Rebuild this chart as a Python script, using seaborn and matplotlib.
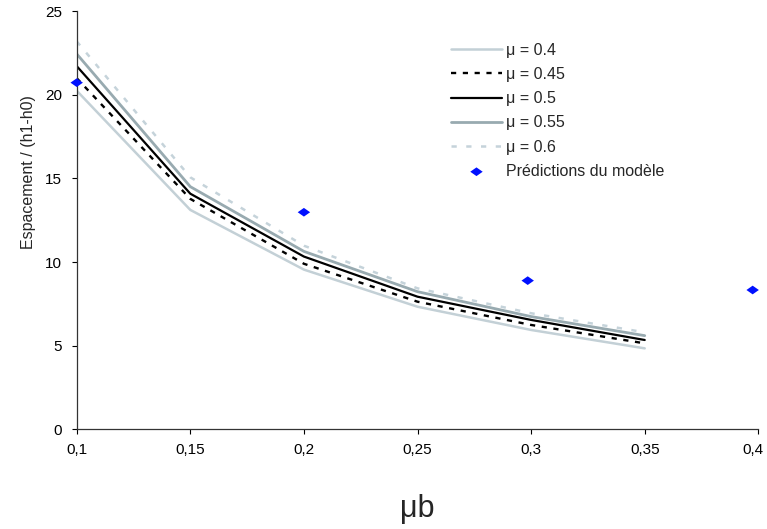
import numpy as np
import pandas as pd
import matplotlib
matplotlib.use("Agg")
import matplotlib.pyplot as plt
import matplotlib.transforms as mtransforms
import seaborn as sns

# ---- data ----
mu_b = [0.1, 0.15, 0.2, 0.25, 0.3, 0.35]
mu_04 = [20.25, 13.12, 9.55, 7.33, 5.94, 4.84]
mu_045 = [21.0, 13.78, 9.9, 7.63, 6.24, 5.14]
mu_05 = [21.72, 14.09, 10.33, 7.93, 6.54, 5.34]
mu_055 = [22.45, 14.51, 10.64, 8.23, 6.74, 5.6]
mu_06 = [23.2, 15.07, 10.98, 8.43, 6.94, 5.8]
series_labels = ["\u03bc = 0.4", "\u03bc = 0.45", "\u03bc = 0.5", "\u03bc = 0.55", "\u03bc = 0.6"]

pred_x = [0.1, 0.2, 0.2985, 0.3975]
pred_y = [20.73, 12.98, 8.89, 8.33]
pred_label = "Prédictions du modèle"

x_ticks = [0.1, 0.15, 0.2, 0.25, 0.3, 0.35, 0.4]
x_tick_labels = ["0,1", "0,15", "0,2", "0,25", "0,3", "0,35", "0,4"]
y_ticks = [0, 5, 10, 15, 20, 25]
y_tick_labels = ["0", "5", "10", "15", "20", "25"]

sns.set_style("ticks")
plt.rcParams["font.family"] = ["Liberation Sans", "DejaVu Sans"]

fig = plt.figure(figsize=(7.67, 5.29), dpi=100)
ax = fig.add_axes([0.1, 0.1885, 0.8887, 0.7902])

styles = [
    dict(color="#C3D0D6", linewidth=1.8, linestyle="-"),
    dict(color="black", linewidth=1.7, linestyle=(0, (2.2, 2.8))),
    dict(color="black", linewidth=1.6, linestyle="-"),
    dict(color="#98AAB0", linewidth=2.0, linestyle="-"),
    dict(color="#C5D3DA", linewidth=1.8, linestyle=(0, (2.1, 3.8))),
]
all_series = [mu_04, mu_045, mu_05, mu_055, mu_06]
for vals, lab, st in zip(all_series, series_labels, styles):
    sns.lineplot(x=mu_b, y=vals, ax=ax, label=lab, **st)

diamond = [(-1, 0), (0, 0.7), (1, 0), (0, -0.7), (-1, 0)]
sns.scatterplot(x=pred_x, y=pred_y, ax=ax, marker=diamond, s=80, color="#0010FF",
                edgecolor="none", label=pred_label, clip_on=False, zorder=5)

ax.set_xlim(0.1, 0.4)
ax.set_ylim(0, 25)
ax.set_xticks(x_ticks)
ax.set_xticklabels(x_tick_labels)
ax.set_yticks(y_ticks)
ax.set_yticklabels(y_tick_labels)
ax.tick_params(axis="both", direction="out", length=3.6, width=0.8, colors="black",
               labelsize=11)
ax.tick_params(axis="x", pad=6.5)
ax.tick_params(axis="y", pad=7)
for side in ["top", "right"]:
    ax.spines[side].set_visible(False)
for side in ["left", "bottom"]:
    ax.spines[side].set_color("#333333")
    ax.spines[side].set_linewidth(0.9)

# the last x tick label sits slightly left of its tick in the reference
last_lbl = ax.get_xticklabels()[-1]
last_lbl.set_transform(last_lbl.get_transform() +
                       mtransforms.ScaledTranslation(-5 / 100, 0, fig.dpi_scale_trans))

ax.set_ylabel("Espacement / (h1-h0)", fontsize=11.5, rotation=90,
              va="center", ha="center", rotation_mode="anchor")
ax.yaxis.set_label_coords(-0.0714, 0.6155)
ax.set_xlabel("")
fig.text(0.5445, 1 - 509 / 529, "\u03bcb", fontsize=22, ha="center", va="center")

leg = ax.legend(loc="upper left", bbox_to_anchor=(0.549, 0.925), frameon=False,
                fontsize=11.5, handlelength=3.2, handletextpad=0.25,
                labelspacing=0.58, borderpad=0, borderaxespad=0)

fig.savefig("out.png", dpi=100, facecolor="white")
